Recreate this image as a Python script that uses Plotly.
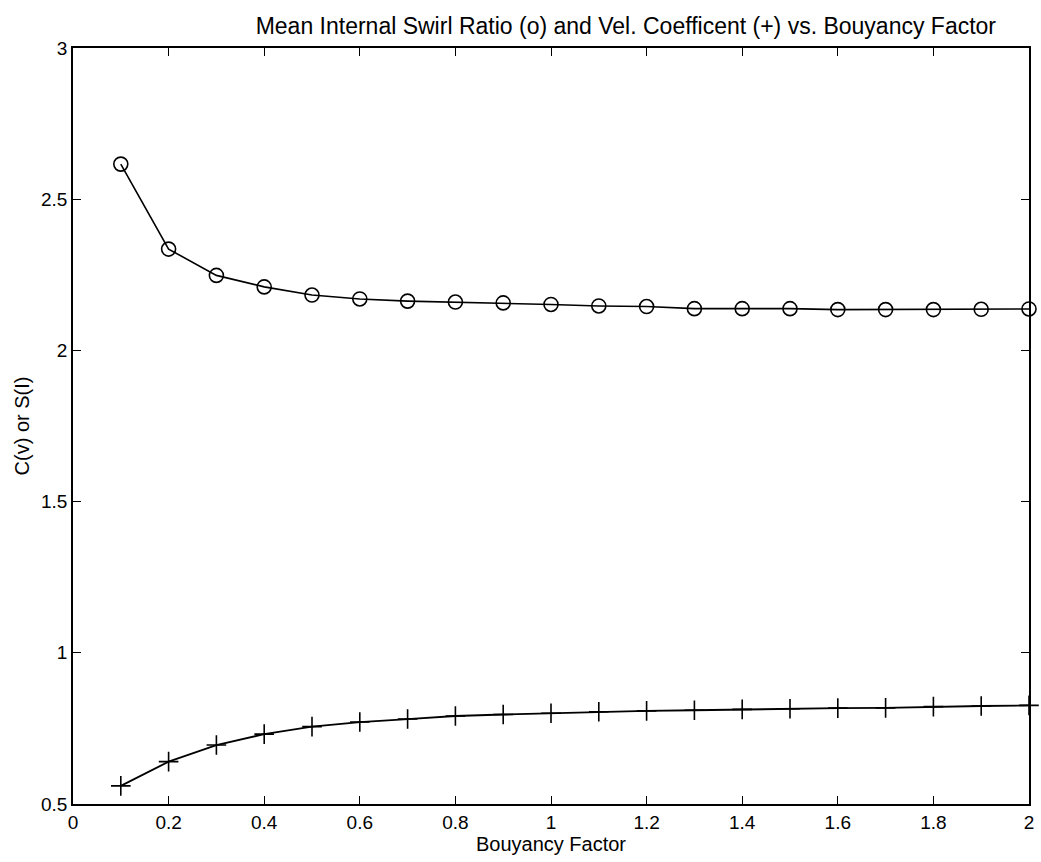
import plotly.graph_objects as go

bouyancy = [0.1, 0.2, 0.3, 0.4, 0.5, 0.6, 0.7, 0.8, 0.9, 1.0,
            1.1, 1.2, 1.3, 1.4, 1.5, 1.6, 1.7, 1.8, 1.9, 2.0]
swirl_ratio = [2.616, 2.335, 2.248, 2.210, 2.183, 2.170, 2.163, 2.160, 2.157, 2.152,
               2.147, 2.145, 2.138, 2.138, 2.138, 2.135, 2.135, 2.135, 2.136, 2.137]
vel_coeff = [0.560, 0.640, 0.695, 0.731, 0.756, 0.771, 0.781, 0.791, 0.796, 0.800,
             0.805, 0.808, 0.810, 0.813, 0.815, 0.817, 0.818, 0.822, 0.824, 0.826]

x_ticks = [0, 0.2, 0.4, 0.6, 0.8, 1, 1.2, 1.4, 1.6, 1.8, 2]
x_tick_text = ["0", "0.2", "0.4", "0.6", "0.8", "1", "1.2", "1.4", "1.6", "1.8", "2"]
y_ticks = [0.5, 1, 1.5, 2, 2.5, 3]
y_tick_text = ["0.5", "1", "1.5", "2", "2.5", "3"]

font_family = "Liberation Sans, Arial, Helvetica, sans-serif"

fig = go.Figure()
fig.add_trace(go.Scatter(
    x=bouyancy, y=swirl_ratio, mode="lines+markers",
    line=dict(color="black", width=1.6),
    marker=dict(symbol="circle-open", size=14, color="black", line=dict(width=1.6)),
    cliponaxis=False, showlegend=False))
fig.add_trace(go.Scatter(
    x=bouyancy, y=vel_coeff, mode="lines+markers",
    line=dict(color="black", width=1.8),
    marker=dict(symbol="cross-thin-open", size=14, color="black", line=dict(width=1.6, color="black")),
    cliponaxis=False, showlegend=False))

axis_common = dict(
    showgrid=False, zeroline=False, showline=True, linecolor="black", linewidth=1.5,
    mirror="ticks", ticks="inside", ticklen=8, tickcolor="black", tickwidth=1.2,
    tickfont=dict(family=font_family, size=19, color="black"),
)

fig.update_layout(
    width=1041, height=862,
    margin=dict(l=73, r=7, t=48, b=58),
    paper_bgcolor="white", plot_bgcolor="white",
    font=dict(family=font_family, color="black", size=19),
    title=dict(text="Mean Internal Swirl Ratio (o) and Vel. Coefficent (+) vs. Bouyancy Factor",
               x=602 / 1041, xref="paper", xanchor="center", y=1 - 26 / 862, yanchor="middle",
               font=dict(family=font_family, size=23, color="black")),
    xaxis=dict(range=[0, 2], tickvals=x_ticks, ticktext=x_tick_text,
               title=dict(text="Bouyancy Factor", standoff=0,
                          font=dict(family=font_family, size=20, color="black")),
               **axis_common),
    yaxis=dict(range=[0.5, 3], tickvals=y_ticks, ticktext=y_tick_text,
               title=dict(text="C(v) or S(I)", standoff=6,
                          font=dict(family=font_family, size=20, color="black")),
               **axis_common),
)

fig.write_html("out.html")
